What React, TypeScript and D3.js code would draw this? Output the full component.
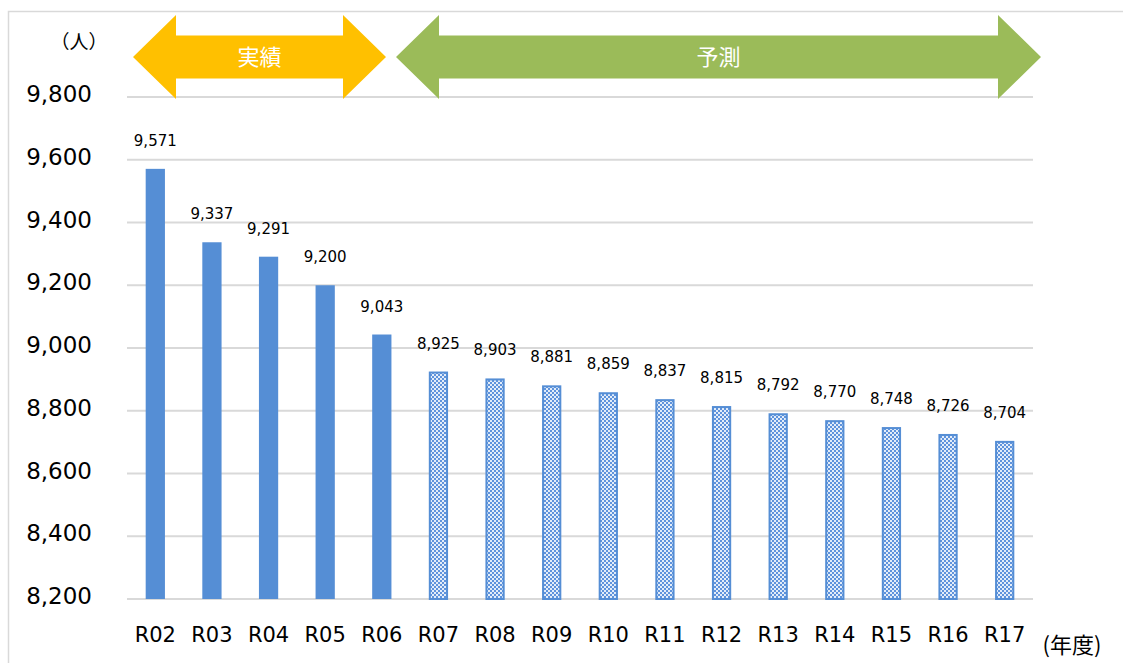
import React from 'react';
import * as d3 from 'd3';

// 年度と人数
const years = ['R02', 'R03', 'R04', 'R05', 'R06', 'R07', 'R08', 'R09', 'R10', 'R11', 'R12', 'R13', 'R14', 'R15', 'R16', 'R17'];
const values = [9571, 9337, 9291, 9200, 9043, 8925, 8903, 8881, 8859, 8837, 8815, 8792, 8770, 8748, 8726, 8704];
const actualCount = 5; // R02〜R06 が実績
const yTicks = [8200, 8400, 8600, 8800, 9000, 9200, 9400, 9600, 9800];

const W = 1123;
const H = 663;
const BLUE = '#558ED5';
const FONT = '"DejaVu Sans", Verdana, sans-serif';
const JP = '"Noto Sans CJK JP", sans-serif';

export default function App() {
  const x = d3.scaleBand<string>().domain(years).range([127, 1033]).paddingInner(0.66).paddingOuter(0.33);
  const y = d3.scaleLinear().domain([8200, 9800]).range([599, 97]);
  const fmt = d3.format(',');
  const bw = x.bandwidth();

  // 両矢印の形
  const dblArrow = (x0: number, x1: number, yMid: number, headW: number, headH: number, shaftH: number) => {
    const p = d3.path();
    p.moveTo(x0, yMid);
    p.lineTo(x0 + headW, yMid - headH / 2);
    p.lineTo(x0 + headW, yMid - shaftH / 2);
    p.lineTo(x1 - headW, yMid - shaftH / 2);
    p.lineTo(x1 - headW, yMid - headH / 2);
    p.lineTo(x1, yMid);
    p.lineTo(x1 - headW, yMid + headH / 2);
    p.lineTo(x1 - headW, yMid + shaftH / 2);
    p.lineTo(x0 + headW, yMid + shaftH / 2);
    p.lineTo(x0 + headW, yMid + headH / 2);
    p.closePath();
    return p.toString();
  };

  return (
    <svg width={W} height={H} style={{ display: 'block', position: 'absolute', left: 0, top: 0 }}>
      <defs>
        <pattern id="chk" width={4} height={4} patternUnits="userSpaceOnUse">
          <rect width={4} height={4} fill="#e3edf9" />
          <rect x={0} y={0} width={2} height={2} fill="#5f93dc" />
          <rect x={2} y={2} width={2} height={2} fill="#5f93dc" />
        </pattern>
      </defs>
      <rect x={0} y={0} width={W} height={H} fill="#fff" />
      <rect x={8.5} y={11.5} width={W} height={H} fill="none" stroke="#d9d9d9" strokeWidth={1.5} />

      {/* グリッド線 */}
      {yTicks.map(t => (
        <line key={t} x1={127} x2={1033} y1={y(t)} y2={y(t)} stroke="#d9d9d9" strokeWidth={2} />
      ))}
      {yTicks.map(t => (
        <text key={'l' + t} x={92} y={y(t) + 5} textAnchor="end" fontFamily={FONT} fontSize={23} fill="#000">
          {fmt(t)}
        </text>
      ))}
      <text x={79} y={49} textAnchor="middle" fontFamily={JP} fontSize={19} fill="#000">（人）</text>

      {/* 棒 */}
      {values.map((v, i) => {
        const bx = x(years[i]) ?? 0;
        const actual = i < actualCount;
        return (
          <g key={years[i]}>
            {actual ? (
              <rect x={bx} y={y(v)} width={bw} height={y(8200) - y(v)} fill={BLUE} />
            ) : (
              <rect x={bx + 1} y={y(v) + 1} width={bw - 2} height={y(8200) - y(v) - 1} fill="url(#chk)" stroke={BLUE} strokeWidth={2} />
            )}
            <text x={bx + bw / 2} y={y(v) - 23} textAnchor="middle" fontFamily={FONT} fontSize={15} fill="#000">
              {fmt(v)}
            </text>
            <text x={bx + bw / 2} y={642} textAnchor="middle" fontFamily={FONT} fontSize={21} fill="#000">
              {years[i]}
            </text>
          </g>
        );
      })}
      <text x={1072} y={653} textAnchor="middle" fontFamily={JP} fontSize={22} fill="#000">(年度)</text>

      {/* 実績・予測 矢印 */}
      <path d={dblArrow(133, 386, 57, 43, 84, 43)} fill="#FFC000" />
      <text x={259.5} y={65} textAnchor="middle" fontFamily={JP} fontSize={22} fill="#fff">実績</text>
      <path d={dblArrow(396, 1041, 57, 43, 84, 43)} fill="#9BBB59" />
      <text x={718.5} y={65} textAnchor="middle" fontFamily={JP} fontSize={22} fill="#fff">予測</text>
    </svg>
  );
}
